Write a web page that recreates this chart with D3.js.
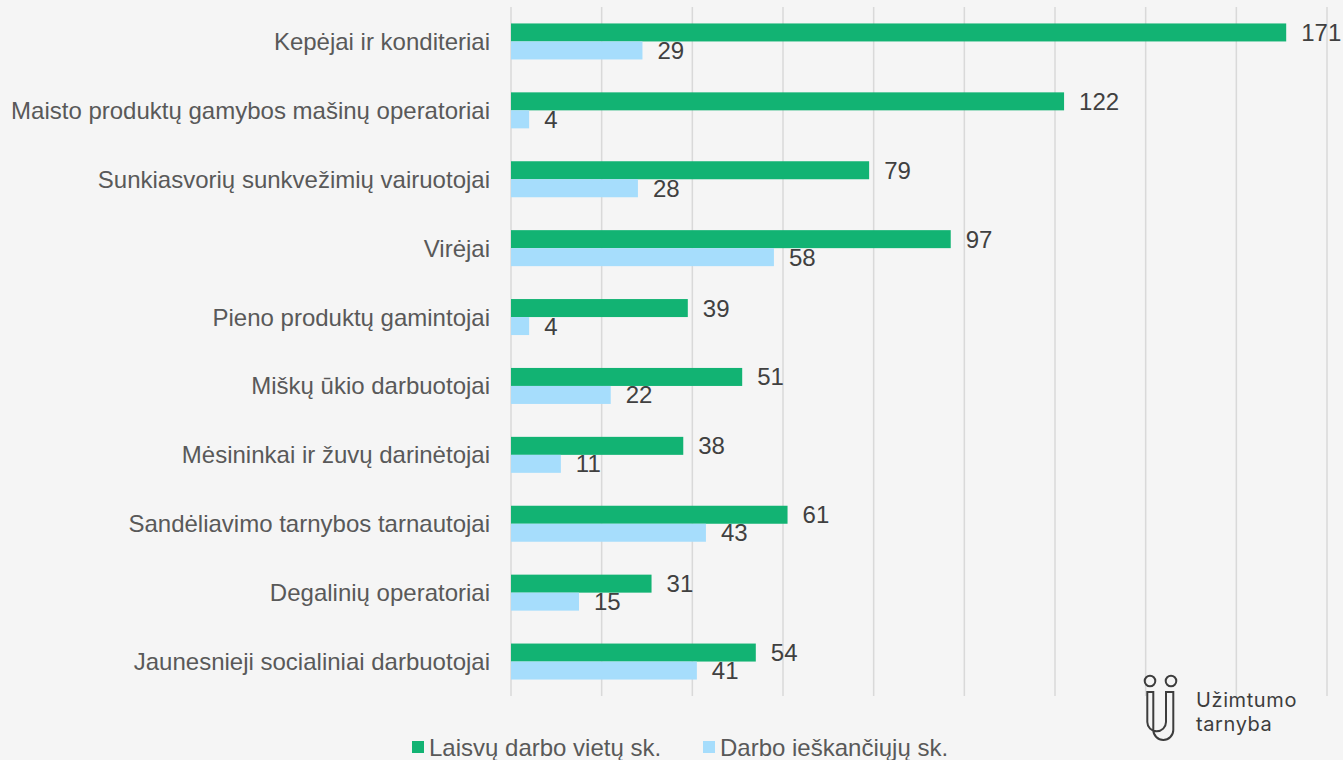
<!DOCTYPE html>
<html>
<head>
<meta charset="utf-8">
<script src="https://cdn.jsdelivr.net/npm/d3@7"></script>
<style>
  html, body { margin: 0; padding: 0; background: #f5f5f5; }
  svg { display: block; font-family: "Liberation Sans", Arial, sans-serif; }
</style>
</head>
<body>
<svg id="chart" width="1343" height="760"></svg>
<script>
const categories = [
  "Kepėjai ir konditeriai",
  "Maisto produktų gamybos mašinų operatoriai",
  "Sunkiasvorių sunkvežimių vairuotojai",
  "Virėjai",
  "Pieno produktų gamintojai",
  "Miškų ūkio darbuotojai",
  "Mėsininkai ir žuvų darinėtojai",
  "Sandėliavimo tarnybos tarnautojai",
  "Degalinių operatoriai",
  "Jaunesnieji socialiniai darbuotojai"
];
const vacancies = [171, 122, 79, 97, 39, 51, 38, 61, 31, 54];
const seekers = [29, 4, 28, 58, 4, 22, 11, 43, 15, 41];
const seriesNames = ["Laisvų darbo vietų sk.", "Darbo ieškančiųjų sk."];
const seriesColors = ["#12b373", "#a6ddfc"];
const logoLines = ["Užimtumo", "tarnyba"];

const svg = d3.select("#chart");
const margin = { top: 7, right: 16, bottom: 64, left: 511 };
const width = 1343, height = 760;
const fontSize = 24;

const x = d3.scaleLinear().domain([0, 180]).range([margin.left, width - margin.right]);
const y = d3.scaleBand().domain(categories).range([margin.top, height - margin.bottom]);
const barH = 18;

// gridlines
svg.append("g")
  .selectAll("line")
  .data(d3.range(0, 181, 20))
  .join("line")
  .attr("x1", d => x(d)).attr("x2", d => x(d))
  .attr("y1", margin.top).attr("y2", height - margin.bottom)
  .attr("stroke", "#d9d9d9")
  .attr("stroke-width", 1.5);

const rows = categories.map((c, i) => ({ cat: c, values: [vacancies[i], seekers[i]] }));

const groups = svg.append("g")
  .selectAll("g")
  .data(rows)
  .join("g")
  .attr("transform", d => `translate(0,${y(d.cat) + y.bandwidth() / 2 - barH})`);

groups.selectAll("rect")
  .data(d => d.values)
  .join("rect")
  .attr("x", x(0))
  .attr("y", (d, i) => i * barH)
  .attr("width", d => x(d) - x(0))
  .attr("height", barH)
  .attr("fill", (d, i) => seriesColors[i]);

groups.selectAll("text.value")
  .data(d => d.values)
  .join("text")
  .attr("class", "value")
  .attr("x", d => x(d) + 15)
  .attr("y", (d, i) => i * barH + barH / 2 + 8.5)
  .attr("font-size", fontSize)
  .attr("fill", "#404040")
  .text(d => d);

// category labels
svg.append("g")
  .selectAll("text")
  .data(categories)
  .join("text")
  .attr("x", 490)
  .attr("y", d => y(d) + y.bandwidth() / 2 + 8.5)
  .attr("text-anchor", "end")
  .attr("font-size", fontSize)
  .attr("fill", "#595959")
  .text(d => d);

// legend
const legendX = [412, 703];
const legend = svg.append("g")
  .selectAll("g")
  .data(seriesNames)
  .join("g")
  .attr("transform", (d, i) => `translate(${legendX[i]},741)`);
legend.append("rect")
  .attr("width", 12).attr("height", 12)
  .attr("fill", (d, i) => seriesColors[i]);
legend.append("text")
  .attr("x", 17).attr("y", 14.5)
  .attr("font-size", fontSize)
  .attr("fill", "#595959")
  .text(d => d);

// logo
const logo = svg.append("g")
  .attr("fill", "none")
  .attr("stroke", "#3d3d3d")
  .attr("stroke-width", 2);
logo.append("circle").attr("cx", 1150).attr("cy", 681).attr("r", 5.3);
logo.append("circle").attr("cx", 1171).attr("cy", 681).attr("r", 5.3);
logo.append("path")
  .attr("d", "M1153.3,730 V692 H1147.3 V722 A9.35,9.35 0 0 0 1166,722 V692 H1173.3 V730 A10,10 0 0 1 1153.3,730");
svg.append("g")
  .attr("font-family", "Inter, 'Open Sans', sans-serif")
  .attr("font-size", 20)
  .attr("letter-spacing", 0.6)
  .attr("fill", "#3d3d3d")
  .selectAll("text")
  .data(logoLines)
  .join("text")
  .attr("x", 1196)
  .attr("y", (d, i) => 707 + i * 24)
  .text(d => d);
</script>
</body>
</html>
